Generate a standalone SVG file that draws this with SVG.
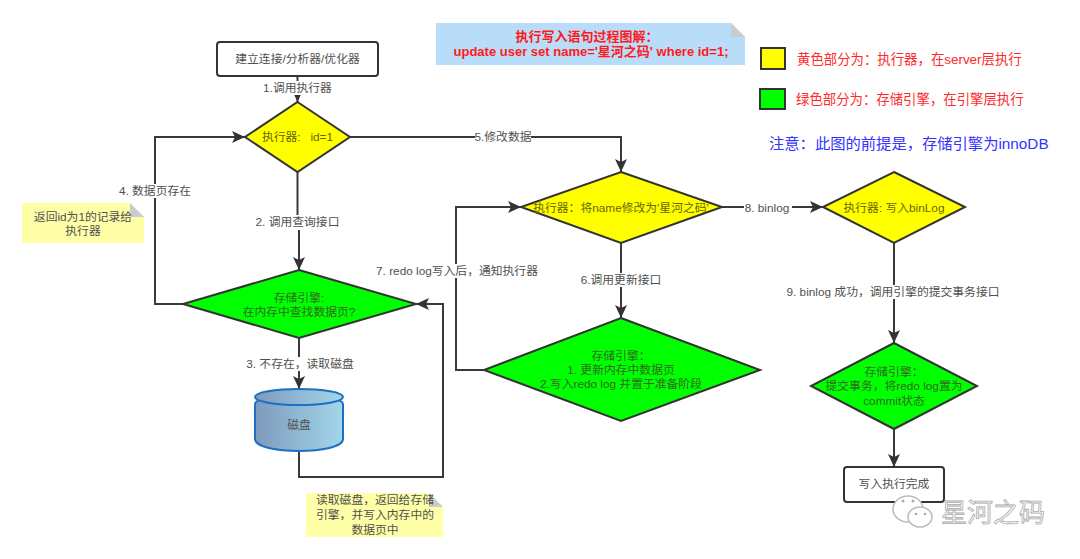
<svg xmlns="http://www.w3.org/2000/svg" width="1080" height="559" viewBox="0 0 1080 559">
<style>
text{font-family:"Liberation Sans","Noto Sans CJK SC",sans-serif;font-size:11.800px;fill:#505050;text-anchor:middle}
.n{stroke:#333;stroke-width:2}
.y{fill:#ff0}.g{fill:#0f0}.w{fill:#fff}
.c{fill:none;stroke:#3a3a3a;stroke-width:2}
.lb{fill:#fff}
.note{fill:#ffffa8}
.fold{fill:#ccc}
.r{fill:#ff2a2a;font-size:13.400px;text-anchor:start}
.dk{fill:#2f6a1f}
.ol{fill:#666600}
.t{fill:#ff1a1a;font-weight:700;font-size:13px}
</style>
<defs>
<marker id="a" markerUnits="userSpaceOnUse" markerWidth="14" markerHeight="12" refX="13" refY="6" orient="auto"><path d="M0 0L13 6L0 12L3 6Z" fill="#333"/></marker>
<linearGradient id="cy"><stop offset="0" stop-color="#7e9abd"/><stop offset="1" stop-color="#a2d6ea"/></linearGradient>
</defs>
<rect width="1080" height="559" fill="#fff"/>
<g id="connectors">
<path class="c" d="M297.500 76V102" marker-end="url(#a)"/>
<path class="c" d="M297.500 172V222H299V270" marker-end="url(#a)"/>
<path class="c" d="M183 304H155V137H245" marker-end="url(#a)"/>
<path class="c" d="M299 338V389" marker-end="url(#a)"/>
<path class="c" d="M299 451V477H443V304H416" marker-end="url(#a)"/>
<path class="c" d="M350 137H621V172" marker-end="url(#a)"/>
<path class="c" d="M621 243V318" marker-end="url(#a)"/>
<path class="c" d="M484 370H456V207H521" marker-end="url(#a)"/>
<path class="c" d="M722 207H823" marker-end="url(#a)"/>
<path class="c" d="M894 243V343" marker-end="url(#a)"/>
<path class="c" d="M894 429V467" marker-end="url(#a)"/>
<rect class="lb" x="263" y="81" width="70" height="14"/><text x="297.500" y="92">1.调用执行器</text>
<rect class="lb" x="256" y="215" width="83" height="15"/><text x="297.500" y="226">2. 调用查询接口</text>
<rect class="lb" x="119" y="184" width="73" height="14"/><text x="155" y="195">4. 数据页存在</text>
<rect class="lb" x="247" y="357" width="106" height="14"/><text x="300" y="368">3. 不存在，读取磁盘</text>
<rect class="lb" x="475" y="130" width="56" height="14"/><text x="503" y="141">5.修改数据</text>
<rect class="lb" x="581" y="273" width="80" height="14"/><text x="621" y="284">6.调用更新接口</text>
<rect class="lb" x="374" y="264" width="166" height="14"/><text x="457" y="275">7. redo log写入后，通知执行器</text>
<rect class="lb" x="744" y="201" width="48" height="14"/><text x="767" y="212">8. binlog</text>
<rect class="lb" x="787" y="285" width="213" height="14"/><text x="893" y="296">9. binlog 成功，调用引擎的提交事务接口</text>
</g>
<g id="start"><rect class="n w" x="217" y="42" width="161" height="34" rx="3"/><text x="297.500" y="63">建立连接/分析器/优化器</text></g>
<g id="exec-id"><path class="n y" d="M297.500 102L350 137L297.500 172L245 137Z"/><text class="ol" x="297.500" y="141">执行器:&#160;&#160; id=1</text></g>
<g id="find-page"><path class="n g" d="M299 270L416 304L299 338L183 304Z"/><text class="dk" x="299" y="302">存储引擎:</text><text class="dk" x="299" y="316">在内存中查找数据页?</text></g>
<g id="disk"><path d="M255 404C255 393 343 393 343 404V439C343 455 255 455 255 439Z" fill="url(#cy)" stroke="#1c6fc2" stroke-width="2"/><ellipse cx="299" cy="397" rx="44" ry="8" fill="url(#cy)" stroke="#1c6fc2" stroke-width="2"/><text x="299" y="429">磁盘</text></g>
<g id="exec-name"><path class="n y" d="M621 172L722 207L621 243L521 207Z"/><text class="ol" x="621" y="212">执行器：将name修改为'星河之码'</text></g>
<g id="update-page"><path class="n g" d="M621 318L760 370L621 421L484 370Z"/><text class="dk" x="621" y="360">存储引擎：</text><text class="dk" x="621" y="374">1. 更新内存中数据页</text><text class="dk" x="621" y="388">2.写入redo log 并置于准备阶段</text></g>
<g id="exec-binlog"><path class="n y" d="M894 172L965 207L894 243L823 207Z"/><text class="ol" x="894" y="212">执行器: 写入binLog</text></g>
<g id="commit"><path class="n g" d="M894 343L977 386L894 429L811 386Z"/><text class="dk" x="894" y="376">存储引擎：</text><text class="dk" x="894" y="390">提交事务，将redo log置为</text><text class="dk" x="894" y="405">commit状态</text></g>
<g id="finish"><rect class="n w" x="844" y="467" width="100" height="35" rx="3"/><text x="894" y="488">写入执行完成</text></g>
<g id="note-return"><path class="note" d="M22 203H130L144 217V243H22Z"/><path class="fold" d="M130 203L144 217H130Z"/><text x="83" y="221">返回id为1的记录给</text><text x="83" y="235">执行器</text></g>
<g id="note-read"><path class="note" d="M306 493H429L443 507V537H306Z"/><path class="fold" d="M429 493L443 507H429Z"/><text x="375" y="504">读取磁盘，返回给存储</text><text x="375" y="519">引擎，并写入内存中的</text><text x="375" y="534">数据页中</text></g>
<g id="title"><path fill="#b9dcf8" d="M436 23H731L745 37V65H436Z"/><path class="fold" d="M731 23L745 37H731Z"/><text class="t" x="587" y="41">执行写入语句过程图解：</text><text class="t" x="591" y="56">update user set name='星河之码' where id=1;</text></g>
<g id="legend-yellow"><rect class="n y" x="761" y="48" width="24" height="21"/><text class="r" x="797" y="64">黄色部分为：执行器，在server层执行</text></g>
<g id="legend-green"><rect class="n g" x="760" y="89" width="25" height="20"/><text class="r" x="796" y="104">绿色部分为：存储引擎，在引擎层执行</text></g>
<g id="remark"><text x="769" y="149" style="fill:#3333ff;font-size:15.300px;text-anchor:start">注意：此图的前提是，存储引擎为innoDB</text></g>
<g id="watermark">
<ellipse cx="908" cy="509" rx="15" ry="13" fill="#fff" stroke="#bbb" stroke-width="1.500"/>
<ellipse cx="920" cy="517" rx="12" ry="10" fill="#fff" stroke="#bbb" stroke-width="1.500"/>
<circle cx="903" cy="501" r="1.500" fill="#aaa"/><circle cx="913" cy="501" r="1.500" fill="#aaa"/><circle cx="916" cy="514" r="1.300" fill="#aaa"/><circle cx="925" cy="514" r="1.300" fill="#aaa"/>
<text x="993" y="522" style="font-size:26px;fill:#fff;stroke:#aaa;stroke-width:.8">星河之码</text>
</g>
</svg>
